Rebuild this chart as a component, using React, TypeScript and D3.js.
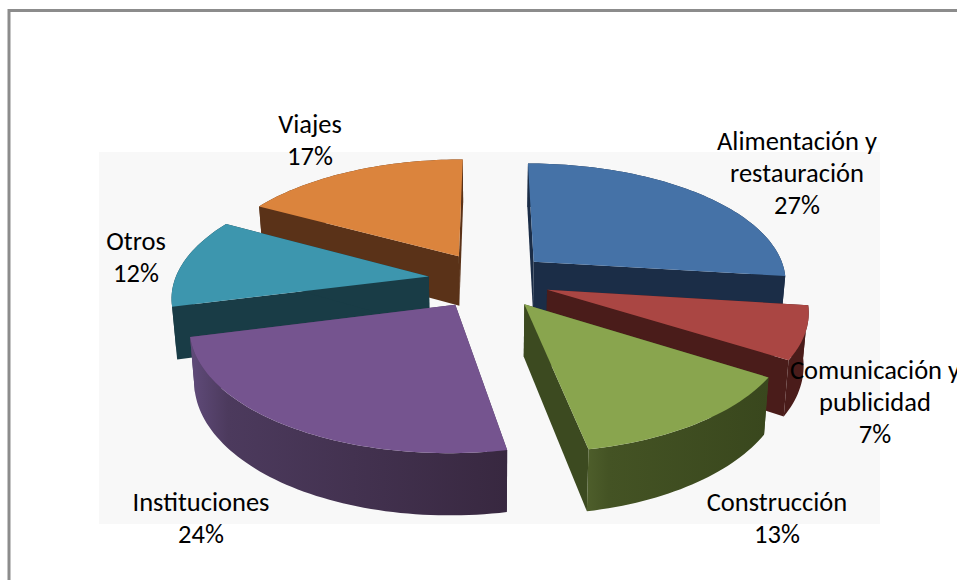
import React from "react";
import * as d3 from "d3";

const categories = ["Alimentación y restauración", "Comunicación y publicidad", "Construcción", "Instituciones", "Otros", "Viajes"];
const values = [27, 7, 13, 24, 12, 17];
const topColors = ["#4572a7", "#aa4643", "#89a54e", "#75548f", "#3d96ae", "#db843d"];
const sideColors = ["#1b2d47", "#4a1c1a", "#3c4a20", "#4d3a5e", "#193c46", "#5a3218"];
const wallLeft = ["#1b2d47", "#4a1c1a", "#4e5e2b", "#604b7a", "#193c46", "#5a3218"];
const wallRight = ["#1b2d47", "#4a1c1a", "#39471d", "#382840", "#193c46", "#5a3218"];
const paintOrder = [5, 0, 4, 1, 3, 2];

const labelLines = [
  ["Alimentación y", "restauración", "27%"],
  ["Comunicación y", "publicidad", "7%"],
  ["Construcción", "13%"],
  ["Instituciones", "24%"],
  ["Otros", "12%"],
  ["Viajes", "17%"],
];
const labelAnchors: [number, number][] = [
  [797, 150],
  [875, 379],
  [777, 511],
  [201, 511],
  [136, 250],
  [310, 133],
];

const W = 957, H = 580;
const cx = 489, cy = 280;
const R = 254, B = 118, persp = 0.15, explode = 0.24, depth = 51;

type P = [number, number];
// Homography from the pie's plane to the page; z = 1 is the underside.
const project = (X: number, Y: number, z: number): P => {
  const s = 1 / (1 + persp * Y);
  const shrink = 1 - 0.016 * z;
  return [cx + R * X * s * shrink, cy - B * Y * s + depth * s * z];
};

const line = d3.line<P>().x((d) => d[0]).y((d) => d[1]);

export default function App() {
  const arcs = d3.pie<number>().sort(null)(values);

  const slices = arcs.map((a, i) => {
    const mid = (a.startAngle + a.endAngle) / 2;
    const ox = explode * Math.sin(mid), oy = explode * Math.cos(mid);
    const rim = (t: number, z: number) => project(ox + Math.sin(t), oy + Math.cos(t), z);
    const apex = (z: number) => project(ox, oy, z);
    const n = Math.max(8, Math.round((a.endAngle - a.startAngle) * 40));
    const ts = d3.range(n + 1).map((k) => a.startAngle + ((a.endAngle - a.startAngle) * k) / n);
    const top = line([apex(0), ...ts.map((t) => rim(t, 0))]) + "Z";
    const wall = line([...ts.map((t) => rim(t, 0)), ...ts.slice().reverse().map((t) => rim(t, 1))]) + "Z";
    const cut = (t: number) => line([apex(0), rim(t, 0), rim(t, 1), apex(1)]) + "Z";
    return { i, top, wall, cuts: [cut(a.startAngle), cut(a.endAngle)] };
  });

  return (
    <svg width={W} height={H} viewBox={`0 0 ${W} ${H}`} style={{ position: "fixed", left: 0, top: 0 }}>
      <defs>
        {slices.map((s) => (
          <linearGradient key={s.i} id={`wall${s.i}`} x1="0" x2="1" y1="0" y2="0">
            <stop offset="0" stopColor={wallLeft[s.i]} />
            <stop offset="0.12" stopColor={d3.interpolateRgb(wallLeft[s.i], wallRight[s.i])(0.5)} />
            <stop offset="1" stopColor={wallRight[s.i]} />
          </linearGradient>
        ))}
      </defs>
      <rect x={0} y={0} width={W} height={H} fill="#ffffff" />
      <path d={`M${W},10.5H9V${H}`} fill="none" stroke="#8c8c8c" strokeWidth={3} />
      <rect x={99} y={152} width={781} height={372} fill="#f8f8f8" />
      {paintOrder.map((i) => {
        const s = slices[i];
        return (
          <g key={categories[i]}>
            {s.cuts.map((d, k) => (
              <path key={k} d={d} fill={sideColors[i]} />
            ))}
            <path d={s.wall} fill={`url(#wall${i})`} />
            <path d={s.top} fill={topColors[i]} />
          </g>
        );
      })}
      <g fontFamily="Carlito, Calibri, Lato, 'Open Sans', sans-serif" fontSize={26.5} fill="#000" textAnchor="middle">
        {labelLines.map((lines, i) =>
          lines.map((t, k) => (
            <text key={t} x={labelAnchors[i][0]} y={labelAnchors[i][1] + k * 32}>
              {t}
            </text>
          ))
        )}
      </g>
    </svg>
  );
}
